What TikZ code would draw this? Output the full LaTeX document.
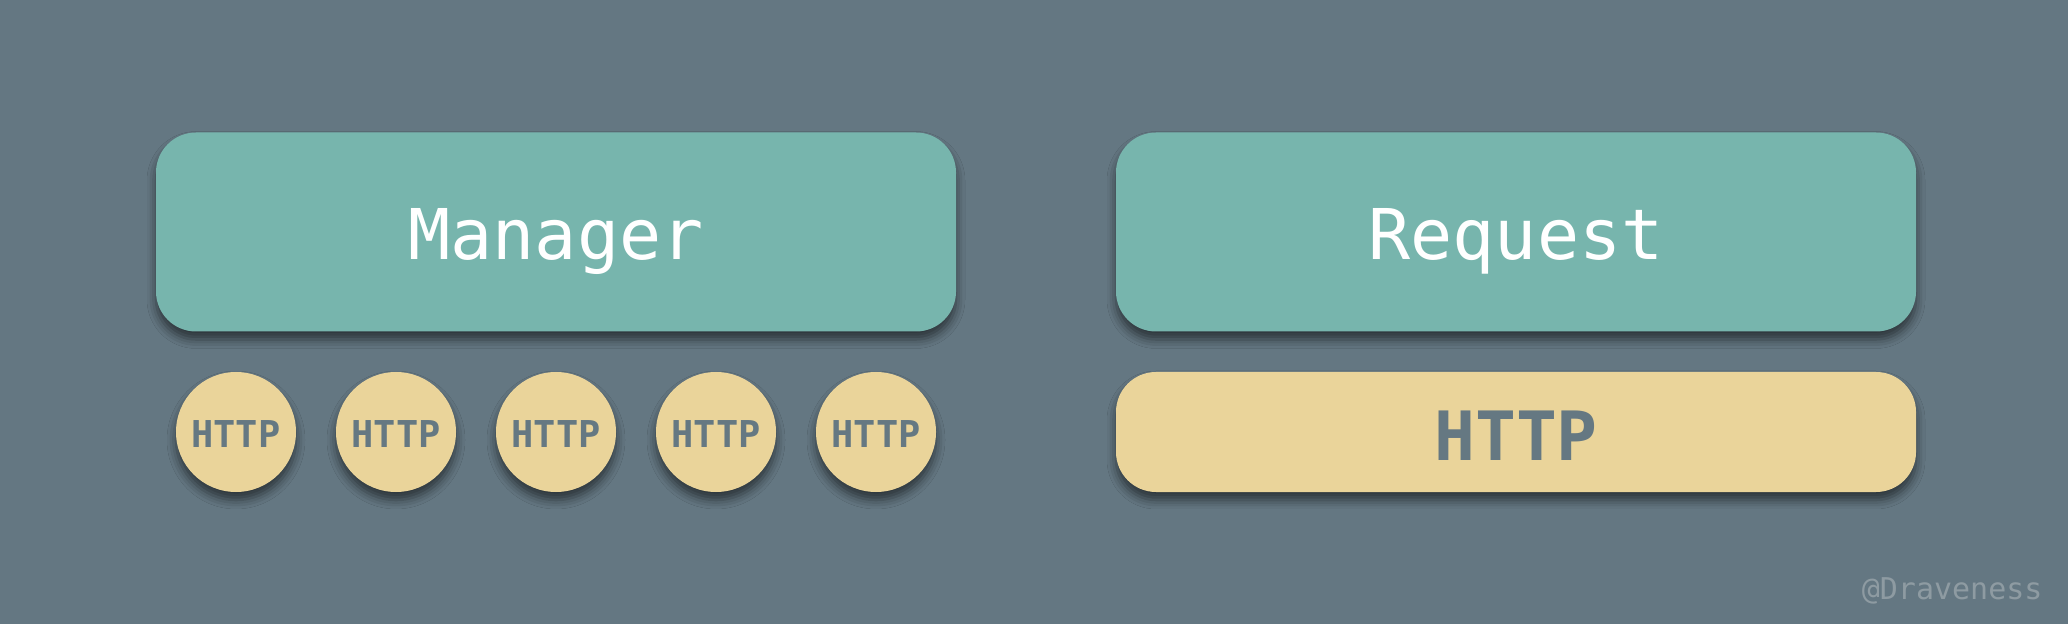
\documentclass[tikz,border=0pt]{standalone}
\usepackage{fontspec}
\usepackage{xcolor}
\usepackage{tikz}
\usetikzlibrary{shadows.blur}
\setmonofont{DejaVu Sans Mono}
\definecolor{bg}{HTML}{647782}
\definecolor{teal}{HTML}{77B5AD}
\definecolor{sand}{HTML}{EAD49A}
\definecolor{text}{HTML}{FFFFFF}
\definecolor{ink}{HTML}{657882}
\definecolor{muted}{HTML}{8E9BA2}
\tikzset{
  shade/.style={blur shadow={shadow xshift=0pt, shadow yshift=-8pt, shadow blur radius=9pt, shadow opacity=55}},
  block/.style={rectangle, rounded corners=40pt, inner sep=0pt, minimum width=800pt, shade},
  big/.style={block, fill=teal, minimum height=199pt, text=text, text height=56pt, text depth=0pt, font=\ttfamily\fontsize{70}{80}\selectfont},
  bar/.style={block, fill=sand, minimum height=120pt, text=ink, text height=56pt, text depth=0pt, font=\ttfamily\bfseries\fontsize{68}{78}\selectfont},
  dot/.style={circle, fill=sand, inner sep=0pt, minimum size=120pt, shade, text=ink, text height=32pt, text depth=0pt, font=\ttfamily\bfseries\fontsize{37}{44}\selectfont},
  labm/.style={text=muted, font=\ttfamily\fontsize{30}{36}\selectfont},
}

\begin{document}
\begin{tikzpicture}[x=1pt, y=1pt]
  \def\W{2068}\def\H{624}
  \useasboundingbox (0,0) rectangle (\W,\H);
  \fill[bg] (0,0) rectangle (\W,\H);

  % top blocks
  \node[big] (manager) at (556,392) {Manager};
  \node[big] (request) at (1516,392) {Request};

  % one http per connection
  \foreach \i/\x in {1/236,2/396,3/556,4/716,5/876}{
    \node[dot] (http\i) at (\x,192) {HTTP};
  }

  % one shared http
  \node[bar] (http) at (1516,192) {HTTP};

  \node[labm, anchor=base east] (mark) at (2046,25) {@Draveness};
\end{tikzpicture}
\end{document}
